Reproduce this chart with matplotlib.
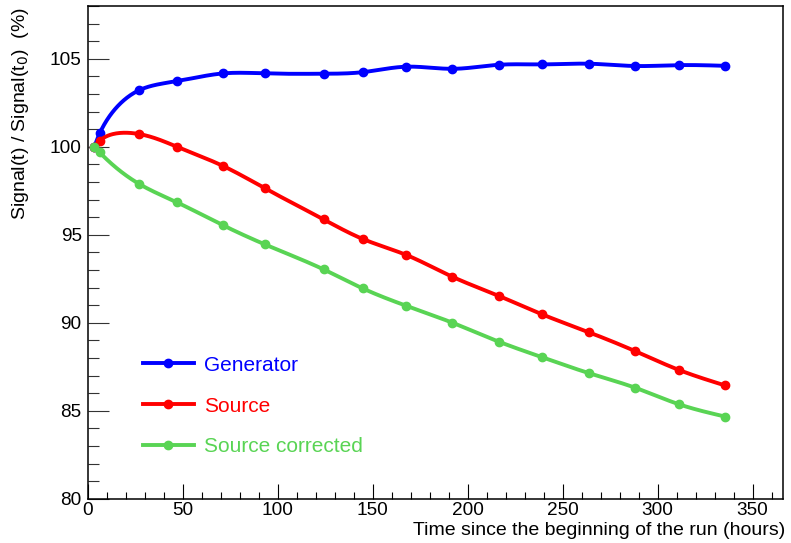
import numpy as np
import matplotlib
matplotlib.use("Agg")
import matplotlib.pyplot as plt
from matplotlib.lines import Line2D

plt.rcParams['font.family'] = ['Liberation Sans', 'DejaVu Sans']

# ---- data ----
time_h = [3.5, 6.3, 27.2, 47.0, 71.4, 93.3, 124.2, 144.8, 167.5, 192.0, 216.5, 238.9, 264.0, 288.1, 311.4, 335.4]
generator = [100.0, 100.76, 103.22, 103.73, 104.17, 104.17, 104.15, 104.24, 104.55, 104.43, 104.66, 104.68, 104.72, 104.59, 104.64, 104.60]
source = [100.0, 100.34, 100.72, 100.0, 98.90, 97.64, 95.87, 94.76, 93.86, 92.61, 91.52, 90.49, 89.45, 88.39, 87.31, 86.44]
source_corr = [100.0, 99.68, 97.88, 96.84, 95.53, 94.45, 93.03, 91.95, 90.97, 90.00, 88.92, 88.05, 87.13, 86.31, 85.36, 84.67]
labels = ["Generator", "Source", "Source corrected"]
colors = ["#0000ff", "#ff0000", "#59d454"]

xlim = (0, 366)
ylim = (80, 108)


def natural_spline(s, f, snew):
    s = np.asarray(s, float); f = np.asarray(f, float)
    n = len(s)
    h = np.diff(s)
    A = np.zeros((n, n)); r = np.zeros(n)
    A[0, 0] = 1; A[-1, -1] = 1
    for i in range(1, n - 1):
        A[i, i - 1] = h[i - 1]
        A[i, i] = 2 * (h[i - 1] + h[i])
        A[i, i + 1] = h[i]
        r[i] = 6 * ((f[i + 1] - f[i]) / h[i] - (f[i] - f[i - 1]) / h[i - 1])
    M = np.linalg.solve(A, r)
    idx = np.clip(np.searchsorted(s, snew) - 1, 0, n - 2)
    s0 = s[idx]; s1 = s[idx + 1]; hh = s1 - s0
    out = (M[idx] * (s1 - snew) ** 3 / (6 * hh) + M[idx + 1] * (snew - s0) ** 3 / (6 * hh)
           + (f[idx] / hh - M[idx] * hh / 6) * (s1 - snew)
           + (f[idx + 1] / hh - M[idx + 1] * hh / 6) * (snew - s0))
    return out


def smooth_curve(x, y, sx=1.9, sy=17.6, n=800):
    u = np.asarray(x) * sx; v = np.asarray(y) * sy
    d = np.hypot(np.diff(u), np.diff(v))
    s = np.concatenate([[0], np.cumsum(d)])
    sn = np.linspace(0, s[-1], n)
    return natural_spline(s, u, sn) / sx, natural_spline(s, v, sn) / sy


W, H = 791, 543
fig = plt.figure(figsize=(W / 100, H / 100), dpi=100)
ax = fig.add_axes([87.7 / W, 1 - 498.7 / H, (783 - 87.7) / W, (498.7 - 6) / H])

handles = []
for ys, c, lab in zip([generator, source, source_corr], colors, labels):
    xs_s, ys_s = smooth_curve(time_h, ys)
    ax.plot(xs_s, ys_s, color=c, lw=2.8, solid_capstyle='round')
    ax.plot(time_h, ys, 'o', color=c, ms=6, mec=c)
    handles.append(Line2D([], [], color=c, lw=2.8, marker='o', ms=6))

ax.set_xlim(*xlim)
ax.set_ylim(*ylim)
ax.set_xticks(np.arange(0, 351, 50))
ax.set_xticks(np.arange(0, 366, 10), minor=True)
ax.set_yticks(np.arange(80, 106, 5))
ax.set_yticks(np.arange(80, 108.1, 1), minor=True)

ax.tick_params(axis='x', which='major', direction='in', length=10.5, width=0.8, labelsize=13.7, pad=2.5, top=False)
ax.tick_params(axis='x', which='minor', direction='in', length=5.2, width=0.8, top=False)
ax.tick_params(axis='y', which='major', direction='in', length=15, width=0.8, labelsize=13.7, pad=4.3, right=False, color='#333333')
ax.tick_params(axis='y', which='minor', direction='in', length=7.7, width=0.8, right=False, color='#333333')
for sp in ax.spines.values():
    sp.set_linewidth(1.1)

ax.set_xlabel("Time since the beginning of the run (hours)", fontsize=14, loc='right')
ax.xaxis.set_label_coords(1.003, -0.047)
ax.set_ylabel(r"Signal(t) / Signal(t$_0$)  (%)", fontsize=14, loc='top')
ax.yaxis.set_label_coords(-0.081, 0.998)

leg = ax.legend(handles, labels, loc='center left', bbox_to_anchor=(0.079, 0.188),
                frameon=False, fontsize=15, handlelength=2.45, handletextpad=0.5,
                labelspacing=1.05, borderpad=0, borderaxespad=0, numpoints=1)
for t, c in zip(leg.get_texts(), colors):
    t.set_color(c)

fig.savefig("out.png", dpi=100)
